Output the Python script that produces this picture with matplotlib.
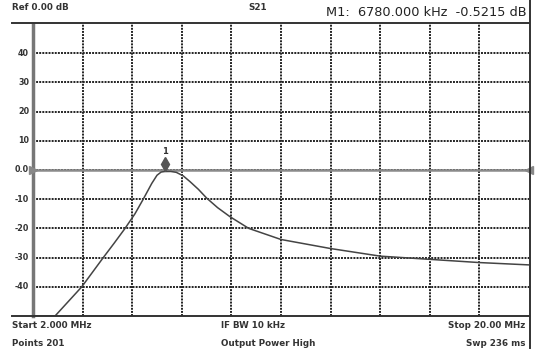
import matplotlib.pyplot as plt
import numpy as np
from matplotlib.lines import Line2D

# S21 trace (MHz, dB); trace is pinned to -50 dB below the screen
freq = [2.0, 2.8, 3.77, 4.55, 4.95, 5.34, 5.7, 6.0, 6.31, 6.5, 6.65, 6.78, 7.0, 7.2,
        7.45, 7.7, 8.0, 8.3, 8.7, 9.15, 9.83, 11.0, 12.8, 14.6, 16.4, 18.2, 20.0]
s21 = [-50, -50, -40, -30, -25, -20, -15, -10, -4.6, -1.8, -0.7, -0.52, -0.5, -0.8,
       -2.0, -4.0, -6.6, -9.6, -12.9, -16, -20, -23.8, -26.9, -29.5, -30.6, -31.7, -32.5]

yticks = [40, 30, 20, 10, 0, -10, -20, -30, -40]
ylabels = ["40", "30", "20", "10", "0.0", "-10", "-20", "-30", "-40"]

marker_f = 6.78
marker_db = -0.5215

W, H = 539, 355
fig = plt.figure(figsize=(W / 100, H / 100), dpi=100)
ax = fig.add_axes([33 / W, 1 - 316 / H, 496 / W, 292 / H])

ax.set_xlim(2, 20)
ax.set_ylim(-50, 50)
ax.set_xticks(np.linspace(2, 20, 11)[1:-1])
ax.set_yticks(np.arange(-40, 41, 10))
ax.grid(True, color="#222222", linestyle=(0, (1.0, 0.6)), linewidth=1.4)
ax.tick_params(length=0, labelbottom=False, labelleft=False)

for v, lab in zip(yticks, ylabels):
    ax.text(-0.008, v, lab, transform=ax.get_yaxis_transform(), ha="right", va="center",
            fontsize=5.8, fontweight="bold", color="#333333")

for side in ["top", "right", "bottom"]:
    ax.spines[side].set_visible(False)
ax.spines["left"].set_color("#777777")
ax.spines["left"].set_linewidth(2.5)

# reference line at 0 dB with the two reference arrows
ax.axhline(0, color="#8a8a8a", linewidth=1.8, zorder=3)
ax.plot([2.0], [0], marker=">", color="#888888", markersize=6, clip_on=False, zorder=4)
ax.plot([20.0], [0], marker="<", color="#888888", markersize=6, clip_on=False, zorder=4)

ax.plot(freq, s21, color="#444444", linewidth=1.1, zorder=5)

# marker 1
ax.plot([marker_f], [marker_db + 2.6], marker="d", color="#555555", markersize=7.5, zorder=6)
ax.text(marker_f, marker_db + 6.9, "1", ha="center", va="center", fontsize=6,
        fontweight="bold", color="#333333")

# frame lines of the analyser screen
fig.add_artist(Line2D([12 / W, 529 / W], [1 - 23 / H, 1 - 23 / H], color="#333333", linewidth=1.4))
fig.add_artist(Line2D([12 / W, 529 / W], [1 - 316 / H, 1 - 316 / H], color="#333333", linewidth=1.4))
fig.add_artist(Line2D([530 / W, 530 / W], [0.02, 1.0], color="#333333", linewidth=1.4))

txt = dict(fontsize=6.3, fontweight="bold", color="#333333")
fig.text(12 / W, 1 - 8 / H, "Ref 0.00 dB", ha="left", va="center", **txt)
fig.text(258 / W, 1 - 8 / H, "S21", ha="center", va="center", **txt)
fig.text(527 / W, 1 - 13 / H, "M1:  6780.000 kHz  -0.5215 dB", ha="right", va="center",
         fontsize=9.3, color="#222222")

fig.text(12 / W, 1 - 326 / H, "Start 2.000 MHz", ha="left", va="center", **txt)
fig.text(12 / W, 1 - 343 / H, "Points 201", ha="left", va="center", **txt)
fig.text(221 / W, 1 - 326 / H, "IF BW 10 kHz", ha="left", va="center", **txt)
fig.text(221 / W, 1 - 343 / H, "Output Power High", ha="left", va="center", **txt)
fig.text(525 / W, 1 - 326 / H, "Stop 20.00 MHz", ha="right", va="center", **txt)
fig.text(525 / W, 1 - 343 / H, "Swp 236 ms", ha="right", va="center", **txt)

fig.savefig("out.png", dpi=100)
